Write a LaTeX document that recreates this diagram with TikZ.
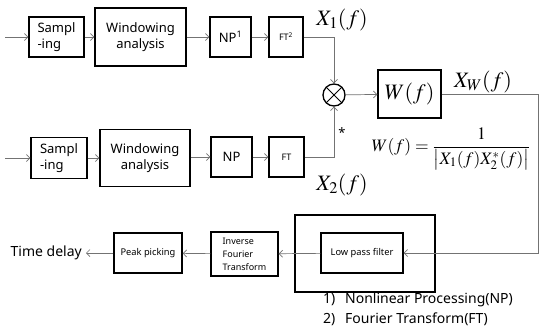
\documentclass[tikz,border=0pt]{standalone}
\usepackage{amsmath}
\usepackage{mathptmx}
\usepackage{fontspec}
\setmainfont{Noto Sans}
\usetikzlibrary{arrows.meta}
\begin{document}
\begin{tikzpicture}[x=1pt,y=-1pt,
  blk/.style={draw,line width=1.3pt,inner sep=0pt,align=center},
  conn/.style={draw=black!55,line width=0.7pt,-{Straight Barb[length=3.5pt,width=7pt]}},
  txtA/.style={font=\fontsize{13}{16}\selectfont},
  txtB/.style={font=\fontsize{9.3}{12}\selectfont},
  mlab/.style={font=\fontsize{22}{24}\selectfont,inner sep=0pt}]
\useasboundingbox (0,0) rectangle (541,333);
% top row
\coordinate (in1) at (5,37);
\node[blk,txtA,align=left,minimum width=55pt,minimum height=40pt] (samp1) at (56.5,37) {Sampl\\-ing};
\node[blk,txtA,minimum width=91pt,minimum height=58pt] (win1) at (140.5,37) {Windowing\\analysis};
\node[blk,txtA,minimum width=41pt,minimum height=40pt] (np1) at (230.5,37) {NP\textsuperscript{\fontsize{9}{9}\selectfont 1}};
\node[blk,font=\fontsize{9}{10}\selectfont,minimum width=34pt,minimum height=40pt] (ft1) at (286,37) {FT\textsuperscript{\fontsize{6.5}{7}\selectfont 2}};
% bottom row
\coordinate (in2) at (5,158);
\node[blk,txtA,align=left,minimum width=56pt,minimum height=41pt] (samp2) at (59,158) {Sampl\\-ing};
\node[blk,txtA,minimum width=90pt,minimum height=57pt] (win2) at (145,158) {Windowing\\analysis};
\node[blk,txtA,minimum width=41pt,minimum height=40pt] (np2) at (231.5,157) {NP};
\node[blk,font=\fontsize{9}{10}\selectfont,minimum width=35pt,minimum height=40pt] (ft2) at (286.5,157) {FT};
% multiplier
\node[draw,circle,line width=1.3pt,minimum size=22pt,inner sep=0pt] (mult) at (334,95) {};
\draw[line width=1pt] (mult.45) -- (mult.225) (mult.135) -- (mult.315);
% W box
\node[blk,mlab,minimum width=63pt,minimum height=48pt] (wbox) at (409.5,94) {$W(f)$};
% labels
\node[mlab] (x1) at (342,20) {$X_1(f)$};
\node[mlab] (x2) at (342,185) {$X_2(f)$};
\node[mlab] (xw) at (483,82) {$X_W(f)$};
\node[font=\fontsize{13}{13}\selectfont,inner sep=0pt] (ast) at (342,133) {*};
\node[font=\fontsize{17.5}{19}\selectfont,inner sep=0pt] (wf) at (451,149) {$W(f)=\dfrac{1}{\left|X_1(f)X_2^*(f)\right|}$};
% lower chain
\node[draw,line width=1.3pt,minimum width=140pt,minimum height=77pt,inner sep=0pt] (outer) at (365,253.5) {};
\node[blk,txtB,minimum width=82pt,minimum height=40pt] (lpf) at (362,253) {Low pass filter};
\node[blk,align=left,font=\fontsize{9}{13}\selectfont,minimum width=67pt,minimum height=44pt] (ift) at (244.5,254) {Inverse\\Fourier\\Transform};
\node[blk,txtB,minimum width=68pt,minimum height=40pt] (peak) at (148,253) {Peak picking};
\node[font=\fontsize{14}{16}\selectfont,anchor=east,inner sep=0pt] (td) at (82,253) {Time delay};
\coordinate (rc) at (538,94);
% footnotes
\node[anchor=west,inner sep=0pt,font=\fontsize{14}{16}\selectfont] (fn1) at (323,300) {\makebox[22pt][l]{1)}Nonlinear Processing(NP)};
\node[anchor=west,inner sep=0pt,font=\fontsize{14}{16}\selectfont] (fn2) at (323,319) {\makebox[22pt][l]{2)}Fourier Transform(FT)};
% connectors
\draw[conn] (in1) -- (samp1);
\draw[conn] (samp1) -- (win1);
\draw[conn] (win1) -- (np1);
\draw[conn] (np1) -- (ft1);
\draw[conn] (in2) -- (samp2);
\draw[conn] (samp2) -- (win2);
\draw[conn] (win2.east |- np2) -- (np2);
\draw[conn] (np2) -- (ft2);
\draw[conn] (ft1.east) -| (mult.north);
\draw[conn] (ft2.east) -| (mult.south);
\draw[conn] (mult) -- (wbox);
\draw[conn] (wbox.east) -- (rc) |- (lpf.east);
\draw[conn] (lpf) -- (ift);
\draw[conn] (ift) -- (peak);
\draw[conn] (peak) -- ([xshift=4pt]td.east);
\end{tikzpicture}
\end{document}
